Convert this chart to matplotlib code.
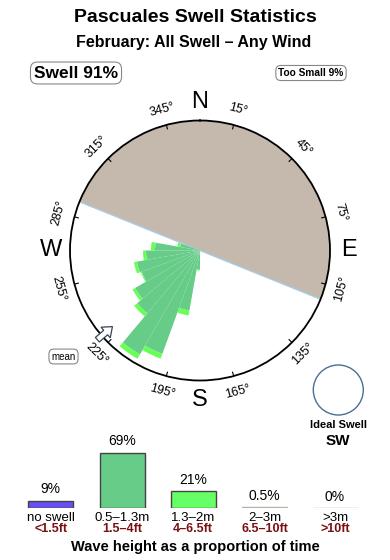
import numpy as np
import matplotlib
matplotlib.use("Agg")
import matplotlib.pyplot as plt
from matplotlib.patches import Circle, Polygon

plt.rcParams['font.family'] = ['Liberation Sans', 'DejaVu Sans']

# ---------------- data ----------------
title = "Pascuales Swell Statistics"
subtitle = "February: All Swell \u2013 Any Wind"
swell_pct_label = "Swell 91%"
too_small_label = "Too Small 9%"

# swell rose (direction bins, 10 degrees wide), radial length in rose units (rim = 130)
rose_dirs = [185, 195, 205, 215, 225, 235, 245, 255, 265, 275, 285]
rose_mid = [19, 61, 110, 120, 82, 75, 62, 64, 54, 45, 20]      # 0.5-1.3m
rose_big = [1, 5, 5, 5, 4, 3, 1, 3, 3, 4, 3]                    # 1.3-2m
rose_max = 130
land_from, land_to = 292, 112     # bearings of the coastline (land clockwise from..to)
mean_dir = 229

tick_bearings = [15, 45, 75, 105, 135, 165, 195, 225, 255, 285, 315, 345]
compass = {"N": 0, "E": 90, "S": 180, "W": 270}

ideal_swell = "SW"

# wave-height distribution
cats = ["no swell", "0.5\u20131.3m", "1.3\u20132m", "2\u20133m", ">3m"]
cats_ft = ["<1.5ft", "1.5\u20134ft", "4\u20136.5ft", "6.5\u201310ft", ">10ft"]
pct = [9, 69, 21, 0.5, 0]
pct_labels = ["9%", "69%", "21%", "0.5%", "0%"]

# ---------------- figure ----------------
W, H = 390, 560
fig = plt.figure(figsize=(W / 100, H / 100), dpi=100)

def fx(x):
    return x / W

def fy(y):
    return 1 - y / H

fig.text(fx(195), fy(17), title, ha="center", va="center", fontsize=14, fontweight="bold")
fig.text(fx(194), fy(42), subtitle, ha="center", va="center", fontsize=11.5, fontweight="bold")

fig.text(fx(76), fy(73), swell_pct_label, ha="center", va="center", fontsize=12.5, fontweight="bold",
         bbox=dict(boxstyle="round,pad=0.2,rounding_size=0.4", fc="white", ec="#888888", lw=0.8))
fig.text(fx(311), fy(73), too_small_label, ha="center", va="center", fontsize=7.3, fontweight="bold",
         bbox=dict(boxstyle="round,pad=0.25,rounding_size=0.5", fc="white", ec="#888888", lw=0.8))
fig.text(fx(63.5), fy(356.5), "mean", ha="center", va="center", fontsize=7,
         bbox=dict(boxstyle="round,pad=0.25,rounding_size=0.5", fc="white", ec="#888888", lw=0.8))

# ---------------- rose ----------------
cx, cy, R = 200, 250.5, 130
ax = fig.add_axes([fx(cx - R), fy(cy + R), 2 * R / W, 2 * R / H], projection="polar")
ax.set_theta_zero_location("N")
ax.set_theta_direction(-1)
ax.set_ylim(0, rose_max)
ax.grid(False)
ax.set_xticks([])
ax.set_yticks([])
ax.spines["polar"].set_linewidth(1.3)
ax.spines["polar"].set_color("black")
ax.patch.set_facecolor("white")

# land
land_width = (land_to - land_from) % 360
land_center = land_from + land_width / 2
ax.bar(np.radians(land_center), rose_max, width=np.radians(land_width), bottom=0,
       color="#C4B9AC", edgecolor="none", zorder=1)
ax.plot([np.radians(land_from), np.radians(land_from), np.radians(land_to)],
        [rose_max, 0, rose_max], color="#A9CBE3", lw=1.0, zorder=2)

th = np.radians(rose_dirs)
wd = np.radians(10)
ax.bar(th, rose_mid, width=wd, bottom=0, color="#66CC88", edgecolor="none", zorder=3)
ax.bar(th, rose_big, width=wd, bottom=rose_mid, color="#66FF55", edgecolor="none", zorder=3)

# ticks and labels
for b in tick_bearings:
    t = np.radians(b)
    ax.plot([t, t], [rose_max - 4, rose_max], color="black", lw=0.8, zorder=4)
    rot = (-b) % 180
    if rot > 90:
        rot -= 180
    ax.text(t, rose_max + 16, f"{b}\u00b0", rotation=rot, rotation_mode="anchor",
            ha="center", va="center", fontsize=9, clip_on=False)
for k, b in compass.items():
    ax.text(np.radians(b), rose_max + 19, k, ha="center", va="center", fontsize=17, clip_on=False)

# mean arrow (hollow), pointing toward centre
t = np.radians(mean_dir)
ux, uy = np.sin(t), np.cos(t)           # outward unit vector (east, north)
px, py = -uy, ux

def P(r, s):
    return (ux * r + px * s, uy * r + py * s)

r_tip, r_tail = 116, 136
pts = [P(r_tip, 0), P(r_tip + 9, 7), P(r_tip + 9, 3), P(r_tail, 3), P(r_tail, -3),
       P(r_tip + 9, -3), P(r_tip + 9, -7)]
pix = [(cx + x, cy - y) for x, y in pts]

fig_ax = fig.add_axes([0, 0, 1, 1], facecolor="none")
fig_ax.set_xlim(0, W)
fig_ax.set_ylim(H, 0)
fig_ax.axis("off")
fig_ax.add_patch(Polygon(pix, closed=True, fc="white", ec="#334455", lw=0.9, zorder=5))

# ideal swell
fig_ax.add_patch(Circle((338.3, 390), 25, fc="none", ec="#4A6E96", lw=1.0))
fig.text(fx(338), fy(425), "Ideal Swell", ha="center", va="center", fontsize=8, fontweight="bold")
fig.text(fx(338), fy(441), ideal_swell, ha="center", va="center", fontsize=11, fontweight="bold")

# ---------------- wave height bars ----------------
base_y = 507.7
px_per_pct = 0.8
bx = fig.add_axes([0, fy(base_y), 1, 100 * px_per_pct / H], facecolor="none")
bx.set_xlim(0, W)
bx.set_ylim(0, 100)
bx.axis("off")
xs = [50.8, 122.3, 193, 264.5, 335]
cols = ["#6650EE", "#66CC88", "#66FF66", "#B4B4A4", "#C4AAAA"]
edges = ["#444444", "#444444", "#444444", "#B4B4A4", "#C4AAAA"]
bx.bar(xs, pct, width=45, color=cols, edgecolor=edges, linewidth=1.0)
for x, v, lab in zip(xs, pct, pct_labels):
    bx.annotate(lab, (x, v), xytext=(0, 3), textcoords="offset points", ha="center", va="bottom",
                fontsize=10)
for x, c, f in zip(xs, cats, cats_ft):
    fig.text(fx(x), fy(518), c, ha="center", va="center", fontsize=9.5)
    fig.text(fx(x), fy(529.5), f, ha="center", va="center", fontsize=9, fontweight="bold", color="#7A1010")
fig.text(fx(195), fy(546.5), "Wave height as a proportion of time", ha="center", va="center",
         fontsize=10.5, fontweight="bold")

fig.savefig("out.png", dpi=100)
